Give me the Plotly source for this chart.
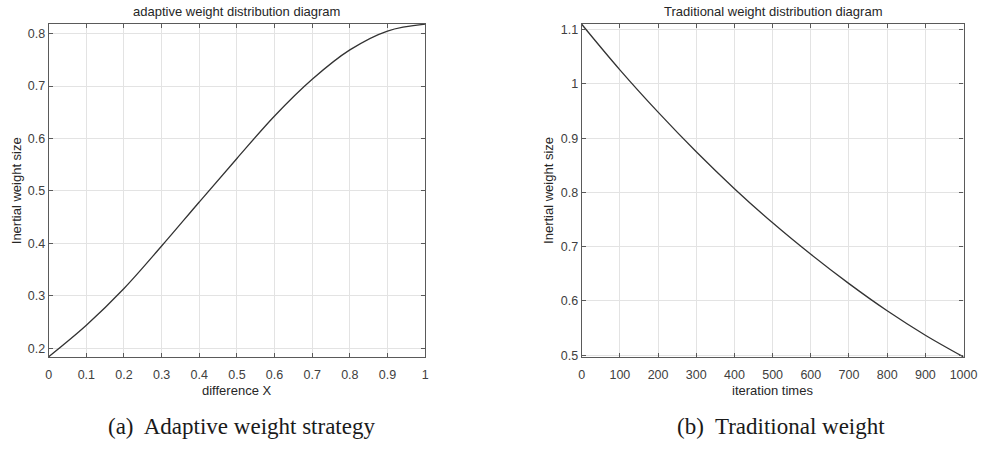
import plotly.graph_objects as go

# ---- data ----
diff_x = [0.0, 0.1, 0.2, 0.3, 0.4, 0.5, 0.6, 0.7, 0.8, 0.9, 1.0]
adaptive_w = [0.184, 0.244, 0.314, 0.395, 0.479, 0.562, 0.643, 0.713, 0.769, 0.805, 0.818]

iters = [0, 100, 200, 300, 400, 500, 600, 700, 800, 900, 1000]
traditional_w = [1.110, 1.026, 0.948, 0.875, 0.807, 0.744, 0.686, 0.632, 0.582, 0.537, 0.497]

left_xticks = [0, 0.1, 0.2, 0.3, 0.4, 0.5, 0.6, 0.7, 0.8, 0.9, 1]
left_yticks = [0.2, 0.3, 0.4, 0.5, 0.6, 0.7, 0.8]
right_xticks = [0, 100, 200, 300, 400, 500, 600, 700, 800, 900, 1000]
right_yticks = [0.5, 0.6, 0.7, 0.8, 0.9, 1.0, 1.1]

W, H = 991, 453
LINE = "#333333"
AX = "#5a5a5a"
GRID = "#e3e3e3"
TICKC = "#404040"
SANS = "Liberation Sans, Arial, sans-serif"
SERIF = "Liberation Serif, Times New Roman, serif"

fig = go.Figure()
fig.add_trace(go.Scatter(x=diff_x, y=adaptive_w, mode="lines", line=dict(color=LINE, width=1.3, shape="spline"),
                         xaxis="x", yaxis="y", showlegend=False))
fig.add_trace(go.Scatter(x=iters, y=traditional_w, mode="lines", line=dict(color=LINE, width=1.3, shape="spline"),
                         xaxis="x2", yaxis="y2", showlegend=False))

ydom = [1 - 361 / H, 1 - 23 / H]
axcommon = dict(showline=True, linecolor=AX, linewidth=1.2, mirror="ticks", ticks="inside", ticklen=4,
                tickcolor=AX, showgrid=True, gridcolor=GRID, gridwidth=1, zeroline=False,
                tickfont=dict(family=SANS, size=12.5, color=TICKC))

fig.update_layout(
    width=W, height=H, margin=dict(l=0, r=0, t=0, b=0),
    paper_bgcolor="white", plot_bgcolor="white",
    xaxis=dict(domain=[46.5 / W, 429.5 / W], range=[0, 1], tickvals=left_xticks, anchor="y",
               ticklabelstandoff=6, **axcommon),
    yaxis=dict(domain=ydom, range=[0.183, 0.819], tickvals=left_yticks, anchor="x", **axcommon),
    xaxis2=dict(domain=[588.8 / W, 977.3 / W], range=[0, 1000], tickvals=right_xticks, anchor="y2",
                ticklabelstandoff=6, **axcommon),
    yaxis2=dict(domain=ydom, range=[0.4964, 1.111], tickvals=right_yticks, anchor="x2", **axcommon),
)

def ann(text, x, y, size, family=SANS, color="#262626", angle=0):
    fig.add_annotation(text=text, x=x / W, y=1 - y / H, xref="paper", yref="paper", showarrow=False,
                       xanchor="center", yanchor="middle", textangle=angle,
                       font=dict(family=family, size=size, color=color))

ann("adaptive weight distribution diagram", 238, 11, 13)
ann("Traditional weight distribution diagram", 783, 11, 13)
ann("difference X", 238, 395, 13)
ann("iteration times", 783, 395, 13)
ann("Inertial weight size", 14, 192, 13, angle=-90)
ann("Inertial weight size", 555, 192, 13, angle=-90)
ann("(a)\u00a0 Adaptive weight strategy", 243, 431, 23, family=SERIF, color="#1a1a1a")
ann("(b)\u00a0 Traditional weight", 792, 431, 23, family=SERIF, color="#1a1a1a")

fig.write_html("out.html")
